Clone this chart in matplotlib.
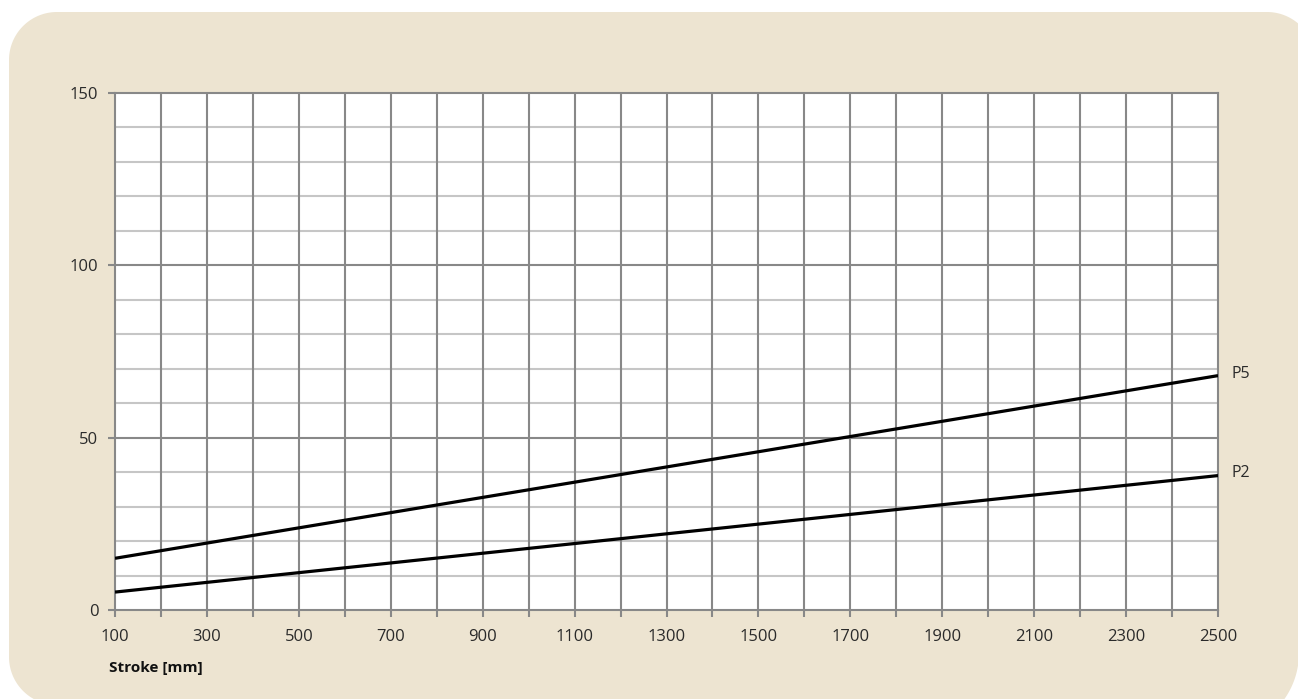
import matplotlib
matplotlib.use("Agg")
import matplotlib.pyplot as plt
from matplotlib.patches import Polygon
import numpy as np

stroke = [100, 2500]
p5 = [15, 68]
p2 = [5.2, 39]
series = {"P5": p5, "P2": p2}
x_labels = list(range(100, 2501, 200))
y_major = [0, 50, 100, 150]

plt.rcParams['font.family'] = ['Open Sans', 'DejaVu Sans']

W, H = 1298, 699
fig = plt.figure(figsize=(W/100, H/100), dpi=100)
fig.patch.set_facecolor('white')

bg_ax = fig.add_axes([0, 0, 1, 1], zorder=-5)
bg_ax.set_xlim(0, W)
bg_ax.set_ylim(H, 0)
bg_ax.axis('off')

# rounded background panel (pixel coords, y down)
corners = [((57, 60), 48, 180, 270),
           ((1267, 60), 48, 270, 360),
           ((1219, 653), 80, 0, 90),
           ((57, 657), 48, 90, 180)]
pts = []
for (cx, cy), r, a0, a1 in corners:
    t = np.radians(np.linspace(a0, a1, 40))
    pts.extend(zip(cx + r*np.cos(t), cy + r*np.sin(t)))
bg_ax.add_patch(Polygon(pts, closed=True, facecolor='#ede4d1', edgecolor='none'))

ax = fig.add_axes([115/W, 89/H, (1218-115)/W, (610-93)/H], zorder=1)
ax.set_facecolor('white')
ax.set_xlim(100, 2500)
ax.set_ylim(0, 150)

# grid
for yv in range(10, 150, 10):
    c = '#888888' if yv % 50 == 0 else '#c6c6c6'
    ax.axhline(yv, color=c, lw=1.5, zorder=1)
for xv in range(200, 2500, 100):
    ax.axvline(xv, color='#888888', lw=1.5, zorder=1)

for sp in ['left', 'right', 'top', 'bottom']:
    ax.spines[sp].set_color('#888888')
    ax.spines[sp].set_linewidth(1.5)

ax.set_xticks(range(100, 2501, 100))
ax.set_xticklabels([str(v) if v in x_labels else '' for v in range(100, 2501, 100)])
ax.set_yticks(y_major)
ax.tick_params(axis='both', colors='#888888', labelcolor='#2a2a2a',
               length=5, width=1.5, labelsize=12)
ax.tick_params(axis='x', pad=9)
ax.tick_params(axis='y', pad=7)

for name, vals in series.items():
    ax.plot(stroke, vals, color='black', lw=2.3, zorder=3, solid_capstyle='butt')
    ax.annotate(name, xy=(stroke[-1], vals[-1]), xytext=(10, 1.5),
                textcoords='offset points', va='center', ha='left',
                fontsize=11.5, color='#2a2a2a', annotation_clip=False)

fig.text(109/W, 1 - 668/H, 'Stroke [mm]', fontsize=11, fontweight='bold',
         color='#111111', va='center', ha='left')

fig.savefig('out.png', dpi=100)
